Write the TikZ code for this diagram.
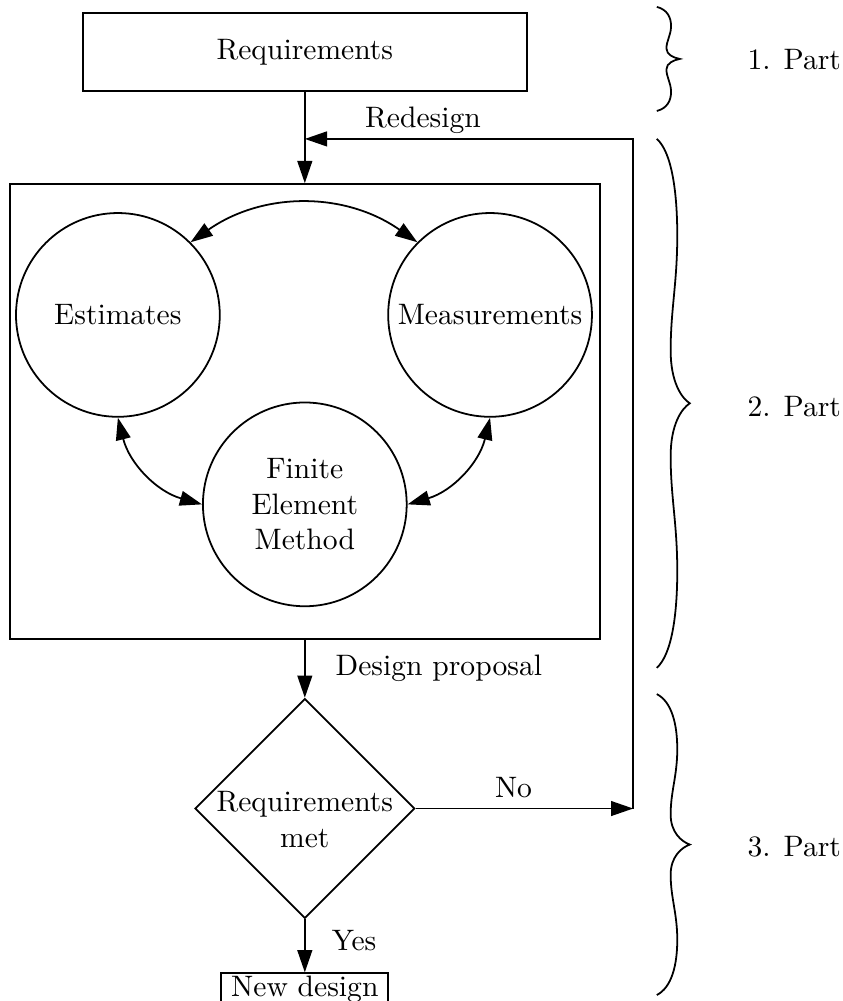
\documentclass[tikz,border=0pt]{standalone}
\usepackage{tikz}
\usetikzlibrary{arrows.meta,positioning,shapes.geometric}
% curly brace: x, middle y, half height, depth of the tip
\newcommand\partbrace[4]{%
  \draw[shift={(#1,#2)}, xscale=#4, yscale=#3]
    (0,1) .. controls (0.45,0.95) and (0.63,0.8) .. (0.62,0.62)
    .. controls (0.61,0.45) and (0.42,0.35) .. (0.42,0.2)
    .. controls (0.42,0.08) and (0.75,0.02) .. (1,0)
    .. controls (0.75,-0.02) and (0.42,-0.08) .. (0.42,-0.2)
    .. controls (0.42,-0.35) and (0.61,-0.45) .. (0.62,-0.62)
    .. controls (0.63,-0.8) and (0.45,-0.95) .. (0,-1);}

\begin{document}
\begin{tikzpicture}[
  semithick,
  node distance=0.6cm,
  block/.style={draw, align=center, minimum width=5.27cm, minimum height=0.93cm},
  frame/.style={draw, minimum width=7.01cm, minimum height=5.40cm},
  source/.style={draw, circle, align=center, minimum size=2.42cm, inner sep=0pt},
  decision/.style={draw, diamond, aspect=1, align=center, minimum size=2.61cm, inner sep=-5pt, text height=26pt, text depth=0pt},
  result/.style={draw, inner ysep=1pt},
  arrow/.style={-{Triangle[length=7.5pt, width=5pt]}},
  both/.style={{Triangle[length=7.5pt, width=5pt]}-{Triangle[length=7.5pt, width=5pt]}}
]
\useasboundingbox (0,0) rectangle (10,-11.888);

\node[block] (req) at (3.62,-0.62) {Requirements};
\node[frame, below=1.08cm of req] (box) {};
\node[source] (est) at (1.40,-3.74) {Estimates};
\node[source] (meas) at (5.82,-3.74) {Measurements};
\node[source] (fem) at (3.62,-5.99) {Finite\\Element\\Method};
\node[decision, below=0.69cm of box] (test) {Requirements\\met};
\node[result, below=0.63cm of test] (newd) {New design};

\coordinate (loop) at (7.52,-1.65);
\coordinate (merge) at (req |- loop);

\draw[arrow] (req) -- (box);
\draw[both] (est.45) to[bend left=35] (meas.135);
\draw[both] (est.south) to[bend right=30] (fem.west);
\draw[both] (meas.south) to[bend left=30] (fem.east);
\draw[arrow] (box) -- node[right=6.8pt] {Design proposal} (test);
\draw[arrow] (test.east) -- node[above, pos=0.45] {No} (test.east -| loop);
\draw[arrow] (test.east -| loop) -- (loop) -- node[above, pos=0.64, yshift=-2pt] {Redesign} (merge);
\draw[arrow] (test) -- node[right=5.5pt, pos=0.4] {Yes} (newd);

% parts
\partbrace{7.80}{-0.70}{0.618}{0.273}
\partbrace{7.80}{-4.79}{3.141}{0.392}
\partbrace{7.80}{-10.03}{1.787}{0.392}
\node[anchor=west] (partA) at (8.75,-0.71) {1. Part};
\node[anchor=west] (partB) at (8.75,-4.83) {2. Part};
\node[anchor=west] (partC) at (8.75,-10.05) {3. Part};
\end{tikzpicture}
\end{document}
